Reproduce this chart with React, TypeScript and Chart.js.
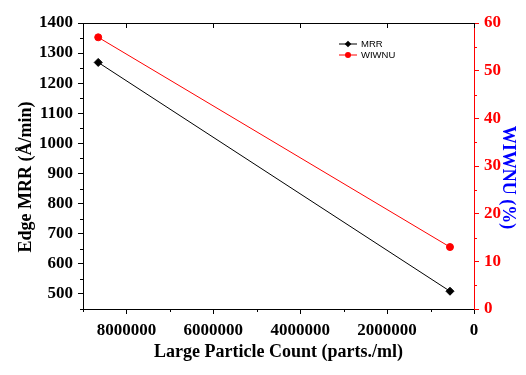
import React, { useEffect, useRef } from 'react';
import { Chart, registerables } from 'chart.js';

Chart.register(...registerables);

const particleCounts = [8650000, 553000];
const mrrValues = [1269, 509];
const wiwnuValues = [57, 13];

const xTicks = [0, 2000000, 4000000, 6000000, 8000000];
const xMinorTicks = [1000000, 3000000, 5000000, 7000000, 9000000];
const mrrTicks = [500, 600, 700, 800, 900, 1000, 1100, 1200, 1300, 1400];
const mrrMinorTicks = [450, 550, 650, 750, 850, 950, 1050, 1150, 1250, 1350];
const wiwnuTicks = [0, 10, 20, 30, 40, 50, 60];
const wiwnuMinorTicks = [5, 15, 25, 35, 45, 55];

const seriesNames = ['MRR', 'WIWNU'];
const xTitle = 'Large Particle Count (parts./ml)';
const yTitle = 'Edge MRR (Å/min)';
const y1Title = 'WIWNU (%)';

const RED = '#ff0000';
const BLACK = '#000000';
const BLUE = '#0000ff';
const titleFont = 'bold 18px "Liberation Serif"';

Chart.defaults.font.family = '"Liberation Serif", serif';
Chart.defaults.font.size = 17;
Chart.defaults.font.weight = 700 as any;

const makeTickFont = () => ({ family: '"Liberation Serif", serif', size: 17, weight: 700 });

const decorPlugin = {
  id: 'decor',
  afterDraw(chart: any) {
    const ctx = chart.ctx as CanvasRenderingContext2D;
    const { left, right, top, bottom } = chart.chartArea;
    const xs = chart.scales.x;
    const ys = chart.scales.y;
    const y1s = chart.scales.y1;
    const snap = (v: number) => Math.round(v) + 0.5;
    ctx.save();
    ctx.lineWidth = 1;
    ctx.strokeStyle = BLACK;
    ctx.beginPath();
    ctx.moveTo(left, snap(top));
    ctx.lineTo(right, snap(top));
    ctx.stroke();
    ctx.beginPath();
    xTicks.forEach((v) => {
      const px = snap(xs.getPixelForValue(v));
      ctx.moveTo(px, top);
      ctx.lineTo(px, top + 5);
    });
    ctx.stroke();
    ctx.beginPath();
    xMinorTicks.forEach((v) => {
      const px = snap(xs.getPixelForValue(v));
      ctx.moveTo(px, bottom);
      ctx.lineTo(px, bottom + 3);
    });
    ctx.stroke();
    ctx.beginPath();
    mrrMinorTicks.forEach((v) => {
      const py = snap(ys.getPixelForValue(v));
      ctx.moveTo(left - 3, py);
      ctx.lineTo(left, py);
    });
    ctx.stroke();
    ctx.strokeStyle = RED;
    ctx.beginPath();
    wiwnuMinorTicks.forEach((v) => {
      const py = snap(y1s.getPixelForValue(v));
      ctx.moveTo(right, py);
      ctx.lineTo(right + 3, py);
    });
    ctx.stroke();

    // legend
    const lx = left + 256;
    const ly = top + 21;
    chart.data.datasets.forEach((ds: any, i: number) => {
      const yy = ly + i * 11;
      ctx.strokeStyle = ds.borderColor;
      ctx.lineWidth = 1;
      ctx.beginPath();
      ctx.moveTo(lx, yy);
      ctx.lineTo(lx + 18, yy);
      ctx.stroke();
      ctx.fillStyle = ds.pointBackgroundColor;
      ctx.beginPath();
      if (ds.pointStyle === 'rectRot') {
        const r = 3.3;
        ctx.moveTo(lx + 9, yy - r);
        ctx.lineTo(lx + 9 + r, yy);
        ctx.lineTo(lx + 9, yy + r);
        ctx.lineTo(lx + 9 - r, yy);
        ctx.closePath();
      } else {
        ctx.arc(lx + 9, yy, 3, 0, Math.PI * 2);
      }
      ctx.fill();
      ctx.fillStyle = BLACK;
      ctx.font = '9.5px "Liberation Sans"';
      ctx.textAlign = 'left';
      ctx.textBaseline = 'middle';
      ctx.fillText(ds.label, lx + 22, yy + 0.5);
    });

    // axis titles
    ctx.font = titleFont;
    ctx.textAlign = 'center';
    ctx.textBaseline = 'middle';
    ctx.fillStyle = BLACK;
    ctx.fillText(xTitle, (left + right) / 2, bottom + 43);

    ctx.save();
    ctx.translate(26, (top + bottom) / 2 + 11);
    ctx.rotate(-Math.PI / 2);
    ctx.fillText(yTitle, 0, 0);
    ctx.restore();

    ctx.save();
    ctx.fillStyle = BLUE;
    ctx.translate(right + 34, (top + bottom) / 2 + 11.5);
    ctx.rotate(Math.PI / 2);
    ctx.fillText(y1Title, 0, 0);
    ctx.restore();

    ctx.restore();
  },
};

export default function App() {
  const canvasRef = useRef<HTMLCanvasElement | null>(null);

  useEffect(() => {
    document.body.style.margin = '0';
    const canvas = canvasRef.current;
    if (!canvas) return;
    const chart = new Chart(canvas, {
      type: 'line',
      data: {
        datasets: [
          {
            label: seriesNames[0],
            data: particleCounts.map((x, i) => ({ x, y: mrrValues[i] })),
            yAxisID: 'y',
            borderColor: BLACK,
            backgroundColor: BLACK,
            pointBackgroundColor: BLACK,
            pointBorderColor: BLACK,
            pointStyle: 'rectRot',
            pointRadius: 4,
            borderWidth: 1,
          } as any,
          {
            label: seriesNames[1],
            data: particleCounts.map((x, i) => ({ x, y: wiwnuValues[i] })),
            yAxisID: 'y1',
            borderColor: RED,
            backgroundColor: RED,
            pointBackgroundColor: RED,
            pointBorderColor: RED,
            pointStyle: 'circle',
            pointRadius: 3.5,
            borderWidth: 1,
          } as any,
        ],
      },
      options: {
        responsive: false,
        animation: false,
        layout: { padding: { top: 23, left: 0, right: 0, bottom: 0 } },
        plugins: {
          legend: { display: false },
          tooltip: { enabled: false },
        },
        scales: {
          x: {
            type: 'linear',
            position: 'bottom',
            reverse: true,
            min: 0,
            max: 9000000,
            afterBuildTicks: (s: any) => {
              s.ticks = xTicks.map((v) => ({ value: v }));
            },
            afterFit: (s: any) => {
              s.height = 66;
            },
            ticks: {
              color: BLACK,
              font: makeTickFont(),
              padding: 6,
              maxRotation: 0,
              autoSkip: false,
              callback: (v: any) => String(v),
            },
            grid: { drawOnChartArea: false, drawTicks: true, tickLength: 5, color: BLACK },
            border: { display: true, color: BLACK, width: 1 },
            title: { display: false },
          },
          y: {
            type: 'linear',
            position: 'left',
            min: 450,
            max: 1400,
            afterBuildTicks: (s: any) => {
              s.ticks = mrrTicks.map((v) => ({ value: v }));
            },
            afterFit: (s: any) => {
              s.width = 83;
            },
            ticks: {
              color: BLACK,
              font: makeTickFont(),
              padding: 5,
              autoSkip: false,
              callback: (v: any) => String(v),
            },
            grid: { drawOnChartArea: false, drawTicks: true, tickLength: 5, color: BLACK },
            border: { display: true, color: BLACK, width: 1 },
            title: { display: false },
          },
          y1: {
            type: 'linear',
            position: 'right',
            min: 0,
            max: 60,
            afterBuildTicks: (s: any) => {
              s.ticks = wiwnuTicks.map((v) => ({ value: v }));
            },
            afterFit: (s: any) => {
              s.width = 52;
            },
            ticks: {
              color: RED,
              font: makeTickFont(),
              padding: 5,
              autoSkip: false,
              callback: (v: any) => String(v),
            },
            grid: { drawOnChartArea: false, drawTicks: true, tickLength: 5, color: RED },
            border: { display: true, color: RED, width: 1 },
            title: { display: false },
          },
        },
      },
      plugins: [decorPlugin],
    });
    return () => chart.destroy();
  }, []);

  return (
    <div style={{ width: 526, height: 375, background: '#fff' }}>
      <canvas ref={canvasRef} width={526} height={375} style={{ display: 'block' }} />
    </div>
  );
}
